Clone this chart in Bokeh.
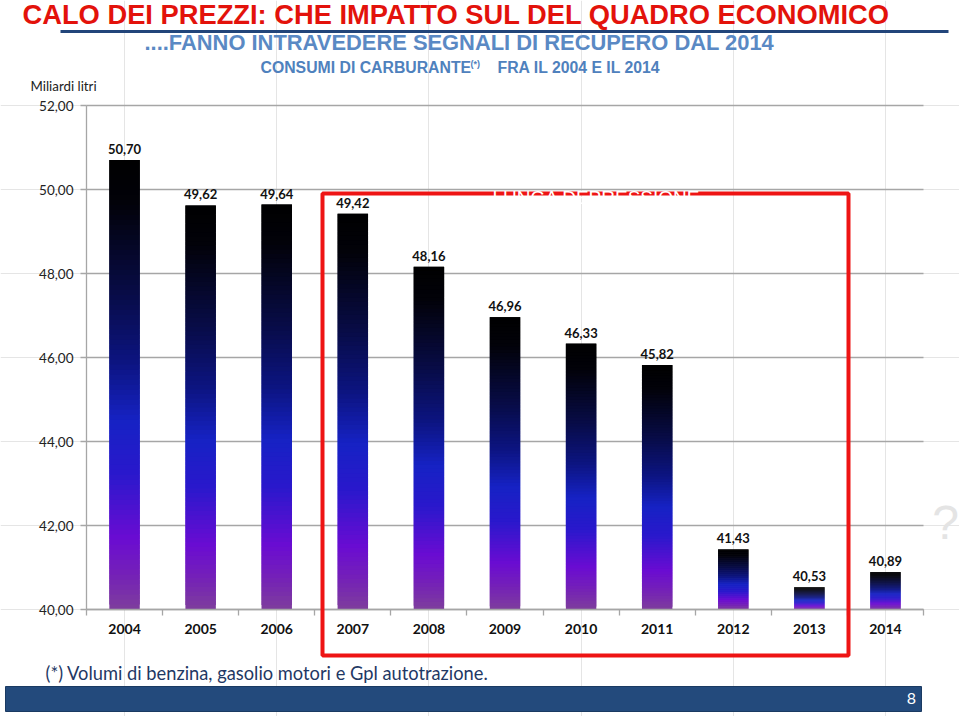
from bokeh.plotting import figure
from bokeh.models import (Range1d, LinearAxis, FixedTicker, Grid, Label, BoxAnnotation,
                          ColumnDataSource)
from bokeh.core.properties import value
from bokeh.embed import file_html
from bokeh.resources import INLINE

# ---------------- data ----------------
years = ["2004", "2005", "2006", "2007", "2008", "2009", "2010", "2011", "2012", "2013", "2014"]
consumi = [50.70, 49.62, 49.64, 49.42, 48.16, 46.96, 46.33, 45.82, 41.43, 40.53, 40.89]
y_ticks = [40, 42, 44, 46, 48, 50, 52]
y_base = 40

title_text = "CALO DEI PREZZI: CHE IMPATTO SUL DEL QUADRO ECONOMICO"
subtitle_text = "....FANNO INTRAVEDERE SEGNALI DI RECUPERO DAL 2014"
chart_title_a = "CONSUMI DI CARBURANTE"
chart_title_sup = "(*)"
chart_title_b = "FRA IL 2004 E IL 2014"
unit_text = "Miliardi litri"
note_text = "(*) Volumi di benzina, gasolio motori e Gpl autotrazione."
box_text = "LUNGA DEPRESSIONE"
page_no = "8"

# ---------------- layout helpers (page pixels -> data) ----------------
W, H = 959, 716
KX = (923 - 86) / len(years)
KY = (609 - 105) / (y_ticks[-1] - y_ticks[0])


def dx(X):
    return -0.5 + (X - 86) / KX


def dy(Y):
    return y_base + (609 - Y) / KY


p = figure(width=W, height=H, output_backend="svg", toolbar_location=None,
           x_range=Range1d(dx(0), dx(W)), y_range=Range1d(dy(H), dy(0)),
           x_axis_location=None, y_axis_location=None, title=None,
           min_border=0, min_border_left=0, min_border_right=0,
           min_border_top=0, min_border_bottom=0)
p.outline_line_color = None
p.background_fill_color = "white"
p.border_fill_color = "white"

n = len(years)
grid_col = "#a6a6a6"

grid = Grid(dimension=1, ticker=FixedTicker(ticks=y_ticks), cross_bounds=(-0.5, n - 0.5),
            grid_line_color=grid_col, grid_line_width=1.3)
p.add_layout(grid)

# ---------------- gradient bars ----------------
stops = [(0.00, (0, 0, 0)), (0.10, (2, 2, 10)), (0.30, (8, 12, 72)), (0.45, (12, 20, 128)),
         (0.58, (22, 34, 196)), (0.70, (42, 24, 204)), (0.84, (106, 12, 210)),
         (0.92, (116, 32, 184)), (1.00, (126, 62, 156))]


def grad(t):
    for (t0, c0), (t1, c1) in zip(stops[:-1], stops[1:]):
        if t <= t1:
            f = (t - t0) / (t1 - t0) if t1 > t0 else 0
            return "#%02x%02x%02x" % tuple(int(round(a + (b - a) * f)) for a, b in zip(c0, c1))
    return "#%02x%02x%02x" % stops[-1][1]


N = 90
xs, bots, tops, cols = [], [], [], []
for i, v in enumerate(consumi):
    for j in range(N):
        xs.append(i)
        bots.append(y_base + (v - y_base) * j / N)
        tops.append(y_base + (v - y_base) * min(j + 2.0, N) / N)
        cols.append(grad(1 - (j + 0.5) / N))
src = ColumnDataSource(dict(x=xs, bottom=bots, top=tops, color=cols))
p.vbar(x="x", bottom="bottom", top="top", width=0.4, source=src,
       fill_color="color", line_color=None)

lab_src = ColumnDataSource(dict(x=list(range(n)), y=consumi,
                                t=[f"{v:.2f}".replace(".", ",") for v in consumi]))
p.text(x="x", y="y", text="t", source=lab_src, y_offset=-6, text_align="center",
       text_baseline="bottom", text_font=value("Lato"), text_font_style="bold",
       text_font_size="13px", text_color="#111111")

# ---------------- axes ----------------
yaxis = LinearAxis(fixed_location=-0.5, bounds=(y_ticks[0], y_ticks[-1]),
                   ticker=FixedTicker(ticks=y_ticks),
                   major_label_overrides={t: f"{t:.2f}".replace(".", ",") for t in y_ticks},
                   major_tick_out=6, major_tick_in=0, minor_tick_out=0, minor_tick_in=0,
                   major_label_standoff=7, axis_line_color=grid_col, major_tick_line_color=grid_col,
                   axis_line_width=1.3, major_tick_line_width=1.3,
                   major_label_text_font="Lato", major_label_text_font_size="13.5px",
                   major_label_text_color="#222222")
p.add_layout(yaxis, "left")

bounds = [k - 0.5 for k in range(n + 1)]
xaxis_ticks = LinearAxis(fixed_location=y_base, bounds=(-0.5, n - 0.5),
                         ticker=FixedTicker(ticks=bounds),
                         major_label_overrides={b: "" for b in bounds},
                         major_tick_out=6, major_tick_in=0, minor_tick_out=0, minor_tick_in=0,
                         axis_line_color=grid_col, major_tick_line_color=grid_col,
                         axis_line_width=1.3, major_tick_line_width=1.3)
p.add_layout(xaxis_ticks, "below")

xaxis_lab = LinearAxis(fixed_location=y_base, ticker=FixedTicker(ticks=list(range(n))),
                       major_label_overrides={i: y for i, y in enumerate(years)},
                       major_tick_out=0, major_tick_in=0, minor_tick_out=0, minor_tick_in=0,
                       axis_line_color=None, major_tick_line_color=None,
                       major_label_standoff=14, major_label_text_font="Lato",
                       major_label_text_font_style="bold", major_label_text_font_size="14px",
                       major_label_text_color="#111111")
p.add_layout(xaxis_lab, "below")

# ---------------- annotations ----------------
sans = "Liberation Sans"

p.add_layout(Label(x=dx(22), y=dy(14), text=title_text, text_align="left",
                   text_baseline="middle",
                   text_font=sans, text_font_style="bold", text_font_size="27.3px",
                   text_color="#e3120b"))
p.add_layout(BoxAnnotation(left=dx(60), right=dx(948), top=dy(29.5), bottom=dy(32.5),
                           fill_color="#22457a", fill_alpha=1, line_color=None))
p.add_layout(Label(x=dx(144), y=dy(42), text=subtitle_text, text_align="left",
                   text_baseline="middle", text_font=sans, text_font_style="bold",
                   text_font_size="21.9px", text_color="#5a89c4"))
p.add_layout(Label(x=dx(260), y=dy(67), text=chart_title_a, text_align="left",
                   text_baseline="middle", text_font=sans, text_font_style="bold",
                   text_font_size="15.8px", text_color="#4f81bd"))
p.add_layout(Label(x=dx(470), y=dy(63), text=chart_title_sup, text_align="left",
                   text_baseline="middle", text_font=sans, text_font_style="bold",
                   text_font_size="9px", text_color="#4f81bd"))
p.add_layout(Label(x=dx(497), y=dy(67), text=chart_title_b, text_align="left",
                   text_baseline="middle", text_font=sans, text_font_style="bold",
                   text_font_size="15.8px", text_color="#4f81bd"))
p.add_layout(Label(x=dx(30), y=dy(85), text=unit_text, text_align="left",
                   text_baseline="middle", text_font="Lato",
                   text_font_size="13.3px", text_color="#222222"))

p.add_layout(BoxAnnotation(left=dx(322), right=dx(848), top=dy(193), bottom=dy(655),
                           fill_alpha=0, line_color="#ee1414", line_alpha=1, line_width=4))
p.add_layout(Label(x=dx(596), y=dy(197), text=box_text, text_align="center",
                   text_baseline="middle", text_font=sans,
                   text_font_size="19px", text_color="white"))
p.add_layout(Label(x=dx(945), y=dy(522), text="?", text_align="center",
                   text_baseline="middle", text_font=sans,
                   text_font_size="48px", text_color="#e4e4e4"))

p.add_layout(Label(x=dx(45), y=dy(672), text=note_text, text_align="left",
                   text_baseline="middle", text_font="Lato",
                   text_font_size="18.3px", text_color="#1f3864"))
p.add_layout(BoxAnnotation(left=dx(5), right=dx(921), top=dy(686), bottom=dy(711),
                           fill_color="#234a7c", fill_alpha=1, line_color="#1a3a62",
                           line_alpha=1, line_width=1))
p.add_layout(Label(x=dx(911), y=dy(698), text=page_no, text_align="center",
                   text_baseline="middle", text_font="Lato",
                   text_font_size="16px", text_color="white"))

open("out.html", "w").write(file_html(p, INLINE))
